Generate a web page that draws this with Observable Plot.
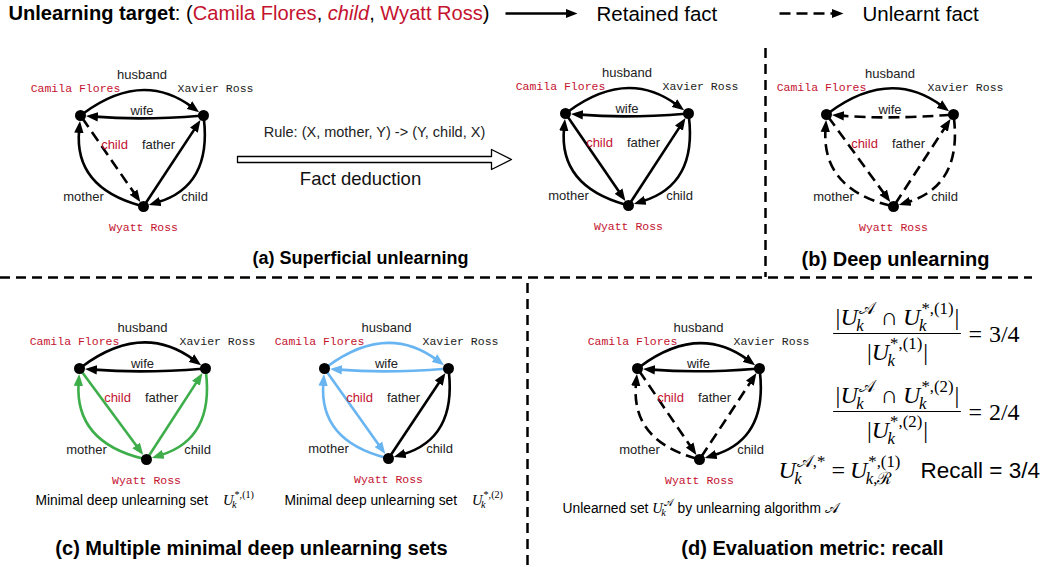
<!DOCTYPE html>
<html><head><meta charset="utf-8">
<script src="https://cdn.jsdelivr.net/npm/d3@7"></script>
<script src="https://cdn.jsdelivr.net/npm/@observablehq/plot@0.6"></script>
<style>html,body{margin:0;padding:0;background:#fff;} #chart svg{display:block}</style>
</head><body><div id="chart"></div>
<script>
// ================= DATA =================
const entities = ["Camila Flores", "Xavier Ross", "Wyatt Ross"];
const relations = [
  {source: "Camila Flores", relation: "husband", target: "Xavier Ross"},
  {source: "Xavier Ross",   relation: "wife",    target: "Camila Flores"},
  {source: "Camila Flores", relation: "child",   target: "Wyatt Ross"},
  {source: "Wyatt Ross",    relation: "father",  target: "Xavier Ross"},
  {source: "Wyatt Ross",    relation: "mother",  target: "Camila Flores"},
  {source: "Xavier Ross",   relation: "child",   target: "Wyatt Ross"}
];
const unlearningTarget = {source: "Camila Flores", relation: "child", target: "Wyatt Ross"};
// fact state per graph, in relation order: r = retained, u = unlearnt, g = set (1), b = set (2)
const graphIds = ["a1", "a2", "b", "c1", "c2", "d"];
const factStates = {
  a1: ["r", "r", "u", "r", "r", "r"],
  a2: ["r", "r", "r", "r", "r", "r"],
  b:  ["r", "u", "u", "u", "u", "u"],
  c1: ["r", "r", "g", "g", "g", "g"],
  c2: ["b", "b", "b", "r", "b", "r"],
  d:  ["r", "r", "u", "u", "u", "r"]
};
const legendLabels = ["Retained fact", "Unlearnt fact"];
const panelTitles = ["(a) Superficial unlearning", "(b) Deep unlearning", "(c) Multiple minimal deep unlearning sets", "(d) Evaluation metric: recall"];
const ruleLabel = "Rule: (X, mother, Y) -> (Y, child, X)";
const deductionLabel = "Fact deduction";
const minimalSetCaption = "Minimal deep unlearning set";
const minimalSetIndex = ["1", "2"];
const overlapCounts = [3, 2];
const minimalSetSizes = [4, 4];
const recallLabel = "Recall = 3/4";

// ================= LAYOUT / STYLE =================
const RED = "#c4122f", GREEN = "#3dae4a", BLUE = "#69b5f2";
const FONTS = {
  sans: '"Liberation Sans", Arial, Helvetica, sans-serif',
  serif: '"Liberation Serif", "DejaVu Serif", serif',
  mono: '"Liberation Mono", "Courier New", monospace'
};
const graphPos = {
  a1: {"Camila Flores": [80, 115], "Xavier Ross": [203, 115], "Wyatt Ross": [143, 206]},
  a2: {"Camila Flores": [565, 113], "Xavier Ross": [688, 113], "Wyatt Ross": [628, 205]},
  b:  {"Camila Flores": [826, 114], "Xavier Ross": [953, 114], "Wyatt Ross": [893, 206]},
  c1: {"Camila Flores": [79, 368], "Xavier Ross": [205, 368], "Wyatt Ross": [146, 459]},
  c2: {"Camila Flores": [324, 368], "Xavier Ross": [448, 368], "Wyatt Ross": [388, 458]},
  d:  {"Camila Flores": [637, 368], "Xavier Ross": [759, 368], "Wyatt Ross": [699, 459]}
};
const nodeLabelOffset = {"Camila Flores": [-5, -27], "Xavier Ross": [12, -27], "Wyatt Ross": [0, 21]};
const relBend = [0.37, 0.04, 0, 0, 0.42, 0.42];
const relLabelPos = [
  (C, X, W) => [(C[0] + X[0]) / 2, C[1] - 41],
  (C, X, W) => [(C[0] + X[0]) / 2, C[1] - 5],
  (C, X, W) => [W[0] - 29, C[1] + 29],
  (C, X, W) => [W[0] + 15, C[1] + 29],
  (C, X, W) => [W[0] - 60, W[1] - 10],
  (C, X, W) => [W[0] + 51, W[1] - 10]
];
const stateColor = {r: "black", u: "black", g: GREEN, b: BLUE};
const NODE_R = 5.5, HEAD_TIP = 9;

// ================= HELPERS =================
const mctx = document.createElement("canvas").getContext("2d");
function measure(text, st) {
  mctx.font = `${st.style} ${st.weight} ${st.size}px ${FONTS[st.font]}`;
  return mctx.measureText(text).width;
}
// lays out tokens on a baseline; supports sub/superscripts
function layoutRun(tokens, x0, y, base) {
  let x = x0; const items = [];
  for (const tk of tokens) {
    if (tk.gap != null) { x += tk.gap; continue; }
    const st = {font: tk.font || base.font, style: tk.style || base.style || "normal",
      weight: tk.weight || base.weight || "normal", size: tk.size || base.size, color: tk.color || base.color || "black"};
    if (tk.t) { items.push({text: tk.t, x, y, ...st}); x += measure(tk.t, st); }
    if (tk.sub || tk.sup) {
      const ss = st.size * 0.7, sb = {font: "serif", style: "normal", size: ss, color: st.color};
      let w = 0;
      if (tk.sub) { const r = layoutRun(tk.sub, x - 1.5, y + st.size * 0.26, sb); items.push(...r.items); w = Math.max(w, r.width - 1.5); }
      if (tk.sup) { const r = layoutRun(tk.sup, x + 1, y - st.size * 0.45, sb); items.push(...r.items); w = Math.max(w, r.width + 1); }
      x += w + 1;
    }
  }
  return {items, width: x - x0};
}
const it = (t) => ({t, style: "italic"});
const Um = (sub, sup) => ({t: "U", font: "serif", style: "italic", sub, sup});
const kS = [it("k")];
const setSup = (i) => [{t: "*,(" + i + ")"}];

function arcCurve(k, insetStart, insetEnd) {
  return (context) => {
    let pts = [];
    return {
      areaStart() {}, areaEnd() {},
      lineStart() { pts = []; },
      point(x, y) { pts.push([+x, +y]); },
      lineEnd() {
        const p0 = pts[0], p2 = pts[pts.length - 1];
        const dx = p2[0] - p0[0], dy = p2[1] - p0[1];
        const cx = (p0[0] + p2[0]) / 2 + dy * k, cy = (p0[1] + p2[1]) / 2 - dx * k;
        const u = (ax, ay) => { const l = Math.hypot(ax, ay) || 1; return [ax / l, ay / l]; };
        const a = u(cx - p0[0], cy - p0[1]), b = u(cx - p2[0], cy - p2[1]);
        const s = [p0[0] + a[0] * insetStart, p0[1] + a[1] * insetStart];
        const e = [p2[0] + b[0] * insetEnd, p2[1] + b[1] * insetEnd];
        context.moveTo(s[0], s[1]);
        if (k === 0) context.lineTo(e[0], e[1]);
        else context.quadraticCurveTo(cx, cy, e[0], e[1]);
      }
    };
  };
}
function filledHead(color, context) {
  const ns = "http://www.w3.org/2000/svg";
  const doc = (context && context.document) || document;
  const m = doc.createElementNS(ns, "marker");
  m.setAttribute("viewBox", "-3 -5 12 10");
  m.setAttribute("markerWidth", 12);
  m.setAttribute("markerHeight", 10);
  m.setAttribute("markerUnits", "userSpaceOnUse");
  m.setAttribute("orient", "auto");
  m.setAttribute("refX", 0);
  m.setAttribute("refY", 0);
  const p = doc.createElementNS(ns, "path");
  p.setAttribute("d", "M-3,-4.7L9,0L-3,4.7Z");
  p.setAttribute("fill", color);
  p.setAttribute("stroke", "none");
  m.appendChild(p);
  return m;
}
const isTarget = (r) => r.source === unlearningTarget.source && r.relation === unlearningTarget.relation && r.target === unlearningTarget.target;
const targetEntities = [unlearningTarget.source, unlearningTarget.target];

// ================= BUILD TABLES =================
const nodes = [], nodeLabels = [], edges = [], relLabels = [];
for (const g of graphIds) {
  const P = graphPos[g];
  for (const e of entities) {
    nodes.push({g, name: e, x: P[e][0], y: P[e][1]});
    const o = nodeLabelOffset[e];
    nodeLabels.push({text: e, x: P[e][0] + o[0], y: P[e][1] + o[1], color: targetEntities.includes(e) ? RED : "#222"});
  }
  relations.forEach((r, i) => {
    const st = factStates[g][i];
    edges.push({g, ri: i, x1: P[r.source][0], y1: P[r.source][1], x2: P[r.target][0], y2: P[r.target][1],
      color: stateColor[st], dashed: st === "u"});
    const [lx, ly] = relLabelPos[i](P["Camila Flores"], P["Xavier Ross"], P["Wyatt Ross"]);
    relLabels.push({text: r.relation, x: lx, y: ly, color: isTarget(r) ? RED : "#222"});
  });
}

// text runs (legend, captions, formulas)
const textItems = [];
const push = (r) => { textItems.push(...r.items); return r; };
// header
push(layoutRun([
  {t: "Unlearning target", weight: "bold"}, {t: ": ("},
  {t: unlearningTarget.source, color: RED}, {t: ", "},
  {t: unlearningTarget.relation, color: RED, style: "italic"}, {t: ", "},
  {t: unlearningTarget.target, color: RED}, {t: ")"}
], 8, 19, {font: "sans", size: 20.1}));
// legend entries
const legendRows = [
  {label: legendLabels[0], x1: 505, x2: 577, tx: 596, dashed: false},
  {label: legendLabels[1], x1: 779, x2: 843, tx: 862, dashed: true}
];
for (const l of legendRows) push(layoutRun([{t: l.label}], l.tx, 20, {font: "sans", size: 20.5}));
// captions
const capBase = {font: "sans", size: 13.8};
[[35, 504], [284, 504]].forEach(([x, y], i) => {
  push(layoutRun([{t: minimalSetCaption}, {gap: 15}, {...Um(kS, setSup(minimalSetIndex[i])), size: 14.5}], x, y, capBase));
});
push(layoutRun([{t: "Unlearned set "}, {...Um(kS, [{t: "𝒜"}]), size: 14.5}, {t: " by unlearning algorithm "}, {t: "𝒜", font: "serif", size: 14.5}], 562, 512, capBase));
// recall fractions
const fracRules = [];
const mathBase = {font: "serif", size: 24};
[[333, 897], [411, 897]].forEach(([yb, cx], i) => {
  const idx = minimalSetIndex[i];
  const num = [{t: "|"}, Um(kS, [{t: "𝒜"}]), {gap: 5}, {t: "∩"}, {gap: 5}, Um(kS, setSup(idx)), {t: "|"}];
  const den = [{t: "|"}, Um(kS, setSup(idx)), {t: "|"}];
  const wn = layoutRun(num, 0, 0, mathBase).width, wd = layoutRun(den, 0, 0, mathBase).width;
  const w = Math.max(wn, wd) + 4;
  push(layoutRun(num, cx - wn / 2, yb - 9, mathBase));
  push(layoutRun(den, cx - wd / 2, yb + 26, mathBase));
  fracRules.push({x1: cx - w / 2, x2: cx + w / 2, y: yb});
  push(layoutRun([{t: "="}, {gap: 7}, {t: overlapCounts[i] + "/" + minimalSetSizes[i]}], cx + w / 2 + 7, yb + 8, {font: "serif", size: 24}));
});
push(layoutRun([Um(kS, [{t: "𝒜,*"}]), {gap: 5}, {t: "="}, {gap: 5}, Um([it("k"), {t: ","}, {t: "ℛ"}], setSup(minimalSetIndex[0]))], 778, 477, mathBase));
push(layoutRun([{t: recallLabel}], 920, 477, {font: "sans", size: 22.5}));

// ================= MARKS =================
const marks = [];
// dividers
marks.push(Plot.ruleX([765], {y1: 48, y2: 277, strokeWidth: 2.5, strokeDasharray: "10,6"}));
marks.push(Plot.ruleY([277], {x1: 0, x2: 1032, strokeWidth: 2.5, strokeDasharray: "10,6"}));
marks.push(Plot.ruleX([527], {y1: 283, y2: 567, strokeWidth: 2.5, strokeDasharray: "10,6"}));
// edges
relations.forEach((r, i) => {
  for (const dashed of [false, true]) {
    const rows = edges.filter((e) => e.ri === i && e.dashed === dashed);
    if (!rows.length) continue;
    marks.push(Plot.link(rows, {x1: "x1", y1: "y1", x2: "x2", y2: "y2", stroke: "color", strokeWidth: 2.6,
      strokeDasharray: dashed ? "11,6" : undefined, strokeLinecap: "butt",
      curve: arcCurve(relBend[i], 3, NODE_R + HEAD_TIP), markerEnd: filledHead}));
  }
});
// legend arrows
for (const dashed of [false, true]) {
  const rows = legendRows.filter((l) => l.dashed === dashed);
  marks.push(Plot.link(rows, {x1: "x1", x2: "x2", y1: () => 13, y2: () => 13, stroke: "black", strokeWidth: 2.6,
    strokeDasharray: dashed ? "11,6" : undefined, strokeLinecap: "butt", curve: arcCurve(0, 0, HEAD_TIP), markerEnd: filledHead}));
}
// deduction arrow (hollow block arrow)
const blockArrow = [{x0: 237, x1: 511, y: 159, shaft: 3, head: 10, headLen: 20}];
const blockPts = blockArrow.flatMap((a) => [
  [a.x0, a.y - a.shaft], [a.x1 - a.headLen, a.y - a.shaft], [a.x1 - a.headLen, a.y - a.head], [a.x1, a.y],
  [a.x1 - a.headLen, a.y + a.head], [a.x1 - a.headLen, a.y + a.shaft], [a.x0, a.y + a.shaft], [a.x0, a.y - a.shaft]
]);
marks.push(Plot.line(blockPts, {x: "0", y: "1", stroke: "black", strokeWidth: 1.3, fill: "white", curve: "linear-closed"}));
// nodes
marks.push(Plot.dot(nodes, {x: "x", y: "y", r: NODE_R, fill: "black"}));
// labels
marks.push(Plot.text(nodeLabels, {x: "x", y: "y", text: "text", fill: "color", fontFamily: FONTS.mono, fontSize: 11.5}));
marks.push(Plot.text(relLabels, {x: "x", y: "y", text: "text", fill: "color", fontFamily: FONTS.sans, fontSize: 13}));
marks.push(Plot.text([ruleLabel], {x: () => 374, y: () => 132, text: (d) => d, fontFamily: FONTS.sans, fontSize: 14.5, fill: "#222"}));
marks.push(Plot.text([deductionLabel], {x: () => 360, y: () => 179, text: (d) => d, fontFamily: FONTS.sans, fontSize: 18.5, fill: "#111"}));
const titlePos = [[360, 258, 18], [895, 259, 20], [251, 548, 20], [812, 548, 20]];
marks.push(Plot.text(panelTitles.map((t, i) => ({t, x: titlePos[i][0], y: titlePos[i][1], s: titlePos[i][2]})),
  {x: "x", y: "y", text: "t", fontSize: "s", fontFamily: FONTS.sans, fontWeight: "bold", fill: "black"}));
// runs grouped by font style
const groups = d3.groups(textItems, (d) => `${d.font}|${d.style}|${d.weight}`);
for (const [key, rows] of groups) {
  const [font, style, weight] = key.split("|");
  marks.push(Plot.text(rows, {x: "x", y: "y", text: "text", fill: "color", fontSize: "size", fontFamily: FONTS[font],
    fontStyle: style, fontWeight: weight, textAnchor: "start", lineAnchor: "bottom"}));
}
// fraction bars
marks.push(Plot.ruleY(fracRules, {y: "y", x1: "x1", x2: "x2", strokeWidth: 1.2, stroke: "black"}));

const chart = Plot.plot({
  width: 1050, height: 567, margin: 0,
  x: {domain: [0, 1050], range: [0, 1050], axis: null},
  y: {domain: [0, 567], range: [0, 567], axis: null},
  color: {type: "identity"},
  style: {background: "white", fontFamily: FONTS.sans},
  marks
});
document.getElementById("chart").appendChild(chart);
</script>
</body></html>
